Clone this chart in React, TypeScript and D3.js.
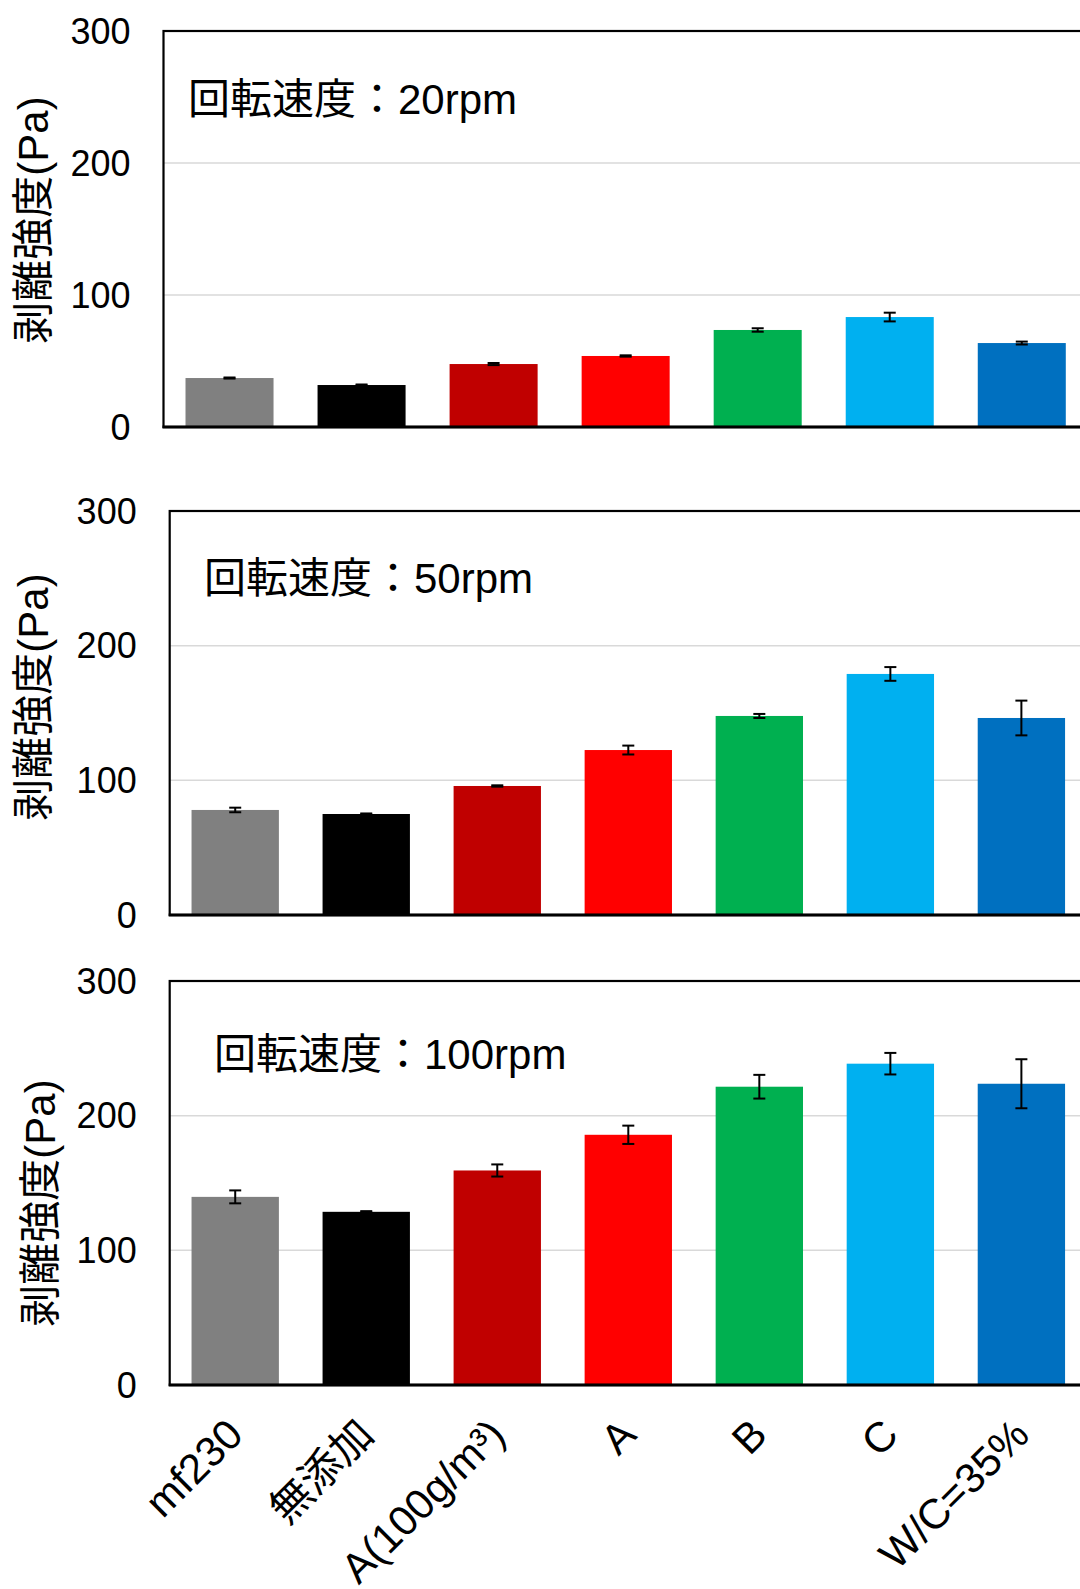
import React from "react";
import * as d3 from "d3";

// Categories along the x axis (shared by all three panels)
const categories = ["mf230", "無添加", "A(100g/m³)", "A", "B", "C", "W/C=35%"];
const barColors = ["#808080", "#000000", "#C00000", "#FF0000", "#00B050", "#00B0F0", "#0070C0"];

// Peel strength (Pa) and error (±) at each rotation speed
const strength20 = [37.1, 31.8, 47.7, 53.8, 73.5, 83.3, 63.6];
const error20 = [0.4, 0.4, 0.8, 0.5, 1.3, 3.3, 1.1];
const strength50 = [78.0, 75.0, 95.8, 122.5, 147.8, 179.0, 146.3];
const error50 = [1.7, 0.4, 0.5, 3.3, 1.5, 5.1, 12.9];
const strength100 = [139.7, 128.6, 159.3, 185.8, 221.5, 238.6, 223.7];
const error100 = [4.8, 0.5, 4.5, 6.8, 8.8, 8.0, 18.2];

const speedLabels = ["回転速度：20rpm", "回転速度：50rpm", "回転速度：100rpm"];
const yTicks = [0, 100, 200, 300];
const yTitle = "剥離強度(Pa)";

const W = 1080;
const H = 1589;
const FONT = "'Liberation Sans', Arial, 'Noto Sans CJK JP', sans-serif";

type PanelLayout = {
  x0: number; x1: number; yTop: number; yBottom: number;
  titleX: number; titleY: number; noteX: number; noteY: number;
};

const layouts: PanelLayout[] = [
  { x0: 163.5, x1: 1087.8, yTop: 31, yBottom: 427, titleX: 33, titleY: 220, noteX: 188, noteY: 114 },
  { x0: 169.7, x1: 1086.9, yTop: 511, yBottom: 915, titleX: 33, titleY: 697, noteX: 204, noteY: 593 },
  { x0: 169.7, x1: 1086.9, yTop: 981, yBottom: 1385, titleX: 40, titleY: 1203, noteX: 214, noteY: 1069 },
];

const panelData = [
  { values: strength20, errors: error20 },
  { values: strength50, errors: error50 },
  { values: strength100, errors: error100 },
];

function Panel({ idx, showX }: { idx: number; showX: boolean }) {
  const L = layouts[idx];
  const { values, errors } = panelData[idx];
  const x = d3.scaleBand<string>()
    .domain(categories)
    .range([L.x0, L.x1])
    .paddingInner(1 / 3)
    .paddingOuter(1 / 6);
  const y = d3.scaleLinear().domain([0, 300]).range([L.yBottom, L.yTop]);
  const cap = 6;

  return (
    <g>
      {/* gridlines */}
      {yTicks.filter((t) => t > 0 && t < 300).map((t) => (
        <line key={"g" + t} x1={L.x0} x2={L.x1} y1={y(t)} y2={y(t)} stroke="#d9d9d9" strokeWidth={1.5} />
      ))}
      {/* bars */}
      {values.map((v, i) => (
        <rect key={"b" + i} x={x(categories[i])!} width={x.bandwidth()} y={y(v)} height={y(0) - y(v)} fill={barColors[i]} />
      ))}
      {/* error bars */}
      {values.map((v, i) => {
        const cx = x(categories[i])! + x.bandwidth() / 2;
        const lo = y(v - errors[i]);
        const hi = y(v + errors[i]);
        return (
          <g key={"e" + i} stroke="#000" strokeWidth={2}>
            <line x1={cx} x2={cx} y1={lo} y2={hi} />
            <line x1={cx - cap} x2={cx + cap} y1={lo} y2={lo} />
            <line x1={cx - cap} x2={cx + cap} y1={hi} y2={hi} />
          </g>
        );
      })}
      {/* frame */}
      <rect x={L.x0} y={L.yTop} width={L.x1 - L.x0} height={L.yBottom - L.yTop} fill="none" stroke="#000" strokeWidth={2.2} />
      <line x1={L.x0 - 1} x2={L.x1} y1={L.yBottom} y2={L.yBottom} stroke="#000" strokeWidth={3} />
      {/* y tick labels */}
      {yTicks.map((t) => (
        <text key={"t" + t} x={L.x0 - 33} y={y(t)} textAnchor="end" dominantBaseline="central" fontSize={36} fill="#000">
          {t}
        </text>
      ))}
      {/* y title */}
      <text transform={`translate(${L.titleX},${L.titleY}) rotate(-90)`} textAnchor="middle" dominantBaseline="central" fontSize={42} fill="#000">
        {yTitle}
      </text>
      {/* rotation speed note */}
      <text x={L.noteX} y={L.noteY} fontSize={42} fill="#000">{speedLabels[idx]}</text>
      {/* x category labels */}
      {showX && categories.map((c, i) => {
        const cx = x(c)! + x.bandwidth() / 2;
        return (
          <text key={"x" + i} transform={`translate(${cx + 10},${L.yBottom + 52}) rotate(-45)`} textAnchor="end" fontSize={42} fill="#000">
            {c}
          </text>
        );
      })}
    </g>
  );
}

export default function App() {
  return (
    <svg
      width={W}
      height={H}
      viewBox={`0 0 ${W} ${H}`}
      style={{ position: "absolute", left: 0, top: 0, display: "block", background: "#fff", fontFamily: FONT }}
    >
      <rect x={0} y={0} width={W} height={H} fill="#fff" />
      <Panel idx={0} showX={false} />
      <Panel idx={1} showX={false} />
      <Panel idx={2} showX={true} />
    </svg>
  );
}
